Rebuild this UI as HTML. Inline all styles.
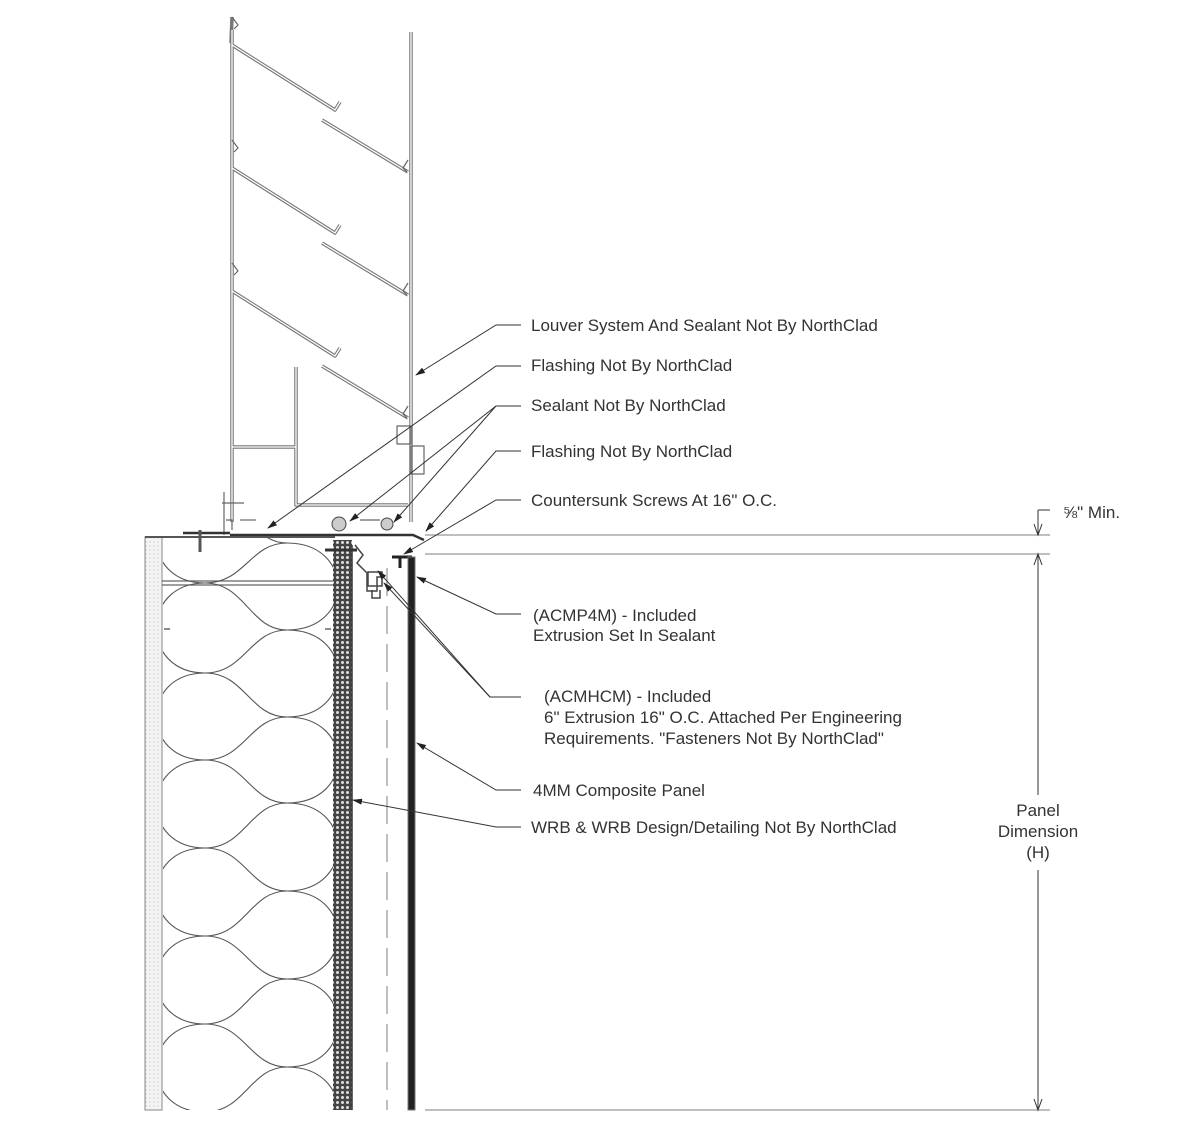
<!DOCTYPE html>
<html><head><meta charset="utf-8"><style>
html,body{margin:0;padding:0;background:#fff}
svg{display:block}
text{font-family:"Liberation Sans",sans-serif;font-size:17px;fill:#333}
</style></head><body>
<svg width="1200" height="1121" viewBox="0 0 1200 1121" xmlns="http://www.w3.org/2000/svg">
<defs>
<pattern id="dots" width="4" height="4" patternUnits="userSpaceOnUse"><rect width="4" height="4" fill="#f4f4f4"/><circle cx="2" cy="2" r="0.6" fill="#bbb"/></pattern>
<pattern id="wrb" width="5" height="5" patternUnits="userSpaceOnUse"><rect width="5" height="5" fill="#444"/><circle cx="2.5" cy="2.5" r="1.5" fill="#ddd"/></pattern>
<clipPath id="ins"><rect x="163" y="538" width="170" height="572"/></clipPath>
<marker id="ah" markerWidth="10" markerHeight="6" refX="9" refY="3" orient="auto" markerUnits="userSpaceOnUse"><path d="M0,0 L10,3 L0,6 Z" fill="#222"/></marker>
</defs>

<!-- LOUVER -->
<g fill="none" stroke-linejoin="round">
 <g stroke="#777" stroke-width="3.5">
  <path d="M232,30 V522"/>
  <path d="M232,17 L231,43"/>
  <path d="M411,32 V522"/>
  <path d="M232,45 L335,110 L340,102"/><path d="M322,120 L408,172"/>
  <path d="M232,168 L335,233 L340,225"/><path d="M322,243 L408,295"/>
  <path d="M232,291 L335,356 L340,348"/><path d="M322,366 L408,418"/>
  <path d="M296,367 V505 H408"/>
  <path d="M232,447 H296"/>
 </g>
 <g stroke="#fff" stroke-width="1.3">
  <path d="M232,30 V522"/>
  <path d="M411,32 V522"/>
  <path d="M232,45 L335,110 L340,102"/><path d="M322,120 L408,172"/>
  <path d="M232,168 L335,233 L340,225"/><path d="M322,243 L408,295"/>
  <path d="M232,291 L335,356 L340,348"/><path d="M322,366 L408,418"/>
  <path d="M296,367 V505 H408"/>
  <path d="M232,447 H296"/>
 </g>
 <g stroke="#666" stroke-width="1.2">
  <path d="M232,17 l6,8 l-4,4"/><path d="M232,140 l6,8 l-4,4"/><path d="M232,263 l6,8 l-4,4"/>
  <path d="M408,160 l-5,8 l4,4"/><path d="M408,283 l-5,8 l4,4"/><path d="M408,406 l-5,8 l4,4"/>
  <rect x="397" y="426" width="14" height="18"/>
  <rect x="411" y="446" width="13" height="28"/>
  <path d="M224,492 V535"/><path d="M222,503 h22"/>
  <path d="M226,520 h6 v10"/>
  <path d="M240,520 h16"/><path d="M360,520 h20"/>
 </g>
</g>

<!-- flashing -->
<path d="M183,533 H230 M230,535 H413 L424,540" stroke="#333" stroke-width="2.5" fill="none"/>
<path d="M200,530 v22" stroke="#555" stroke-width="3"/>
<circle cx="339" cy="524" r="7" fill="#ccc" stroke="#444"/>
<circle cx="387" cy="524" r="6" fill="#ccc" stroke="#444"/>

<!-- WALL -->
<rect x="145" y="537" width="17" height="573" fill="url(#dots)" stroke="#888"/>
<path d="M145,537 H335" stroke="#555" stroke-width="2"/>
<rect x="333" y="540" width="19" height="570" fill="url(#wrb)"/>
<path d="M352,545 V1110" stroke="#333" stroke-width="1.5"/>
<path d="M325,550 H357" stroke="#333" stroke-width="3"/>
<path d="M162,581 H333 M162,585 H333" stroke="#666" stroke-width="1.2"/>
<path d="M170,629 h-6 M325,629 h6" stroke="#666" stroke-width="1.5"/>
<!-- insulation -->
<g clip-path="url(#ins)" fill="none" stroke="#555" stroke-width="1.1">
 <path d="M205,495 C140,495 140,583 205,583 C140,583 140,673 205,673 C140,673 140,760 205,760 C140,760 140,848 205,848 C140,848 140,936 205,936 C140,936 140,1024 205,1024 C140,1024 140,1112 205,1112"/>
 <path d="M287,543 C355,543 355,630 287,630 C355,630 355,717 287,717 C355,717 355,803 287,803 C355,803 355,891 287,891 C355,891 355,979 287,979 C355,979 355,1067 287,1067 C355,1067 355,1154 287,1154"/>
 <path d="M205,583 C245,583 250,543 287,543 M205,673 C245,673 250,630 287,630 M205,760 C245,760 250,717 287,717 M205,848 C245,848 250,803 287,803 M205,936 C245,936 250,891 287,891 M205,1024 C245,1024 250,979 287,979 M205,1112 C245,1112 250,1067 287,1067"/>
 <path d="M205,583 C245,583 250,630 287,630 M205,673 C245,673 250,717 287,717 M205,760 C245,760 250,803 287,803 M205,848 C245,848 250,891 287,891 M205,936 C245,936 250,979 287,979 M205,1024 C245,1024 250,1067 287,1067 M205,495 C245,495 250,543 287,543"/>
</g>

<!-- clips -->
<g fill="none" stroke="#444" stroke-width="1.5">
 <path d="M355,545 l8,10 l-6,8 l10,10 v18 h10 v-14 h6"/>
 <rect x="368" y="572" width="14" height="14"/>
 <path d="M372,590 v8 h8 v-8"/>
</g>
<path d="M392,557 H412 M400,557 V568" stroke="#222" stroke-width="3"/>
<path d="M387,568 V1110" stroke="#aaa" stroke-width="1.5" stroke-dasharray="28,10"/>
<rect x="408" y="557" width="7" height="553" fill="#222" stroke="#777"/>

<!-- dimension -->
<g stroke="#999" stroke-width="1.2">
 <path d="M425,535 H1050 M425,554 H1050 M425,1110 H1050"/>
</g>
<g stroke="#333" stroke-width="1">
 <path d="M1038,510 H1050 M1038,510 V535 M1038,554 V795 M1038,870 V1110"/>
 <path d="M1034,524 L1038,535 L1042,524 M1034,565 L1038,554 L1042,565 M1034,1099 L1038,1110 L1042,1099" fill="none"/>
</g>
<text x="1063" y="518">⅝" Min.</text>
<text x="1038" y="816" text-anchor="middle">Panel</text>
<text x="1038" y="837" text-anchor="middle">Dimension</text>
<text x="1038" y="858" text-anchor="middle">(H)</text>

<!-- leaders -->
<g stroke="#333" stroke-width="1" fill="none">
 <path d="M521,325 H496 L416,375" marker-end="url(#ah)"/>
 <path d="M521,366 H496 L268,528" marker-end="url(#ah)"/>
 <path d="M521,406 H496 L350,521" marker-end="url(#ah)"/>
 <path d="M496,406 L394,522" marker-end="url(#ah)"/>
 <path d="M521,451 H496 L426,531" marker-end="url(#ah)"/>
 <path d="M521,500 H496 L404,554" marker-end="url(#ah)"/>
 <path d="M521,614 H496 L417,577" marker-end="url(#ah)"/>
 <path d="M521,697 H490 L378,571" marker-end="url(#ah)"/>
 <path d="M490,697 L384,583" marker-end="url(#ah)"/>
 <path d="M521,790 H496 L417,743" marker-end="url(#ah)"/>
 <path d="M521,827 H496 L353,800" marker-end="url(#ah)"/>
</g>

<text x="531" y="331">Louver System And Sealant Not By NorthClad</text>
<text x="531" y="371">Flashing Not By NorthClad</text>
<text x="531" y="411">Sealant Not By NorthClad</text>
<text x="531" y="457">Flashing Not By NorthClad</text>
<text x="531" y="506">Countersunk Screws At 16" O.C.</text>
<text x="533" y="621">(ACMP4M) - Included</text>
<text x="533" y="641">Extrusion Set In Sealant</text>
<text x="544" y="702">(ACMHCM) - Included</text>
<text x="544" y="723">6" Extrusion 16" O.C. Attached Per Engineering</text>
<text x="544" y="744">Requirements. "Fasteners Not By NorthClad"</text>
<text x="533" y="796">4MM Composite Panel</text>
<text x="531" y="833">WRB &amp; WRB Design/Detailing Not By NorthClad</text>
</svg>
</body></html>
